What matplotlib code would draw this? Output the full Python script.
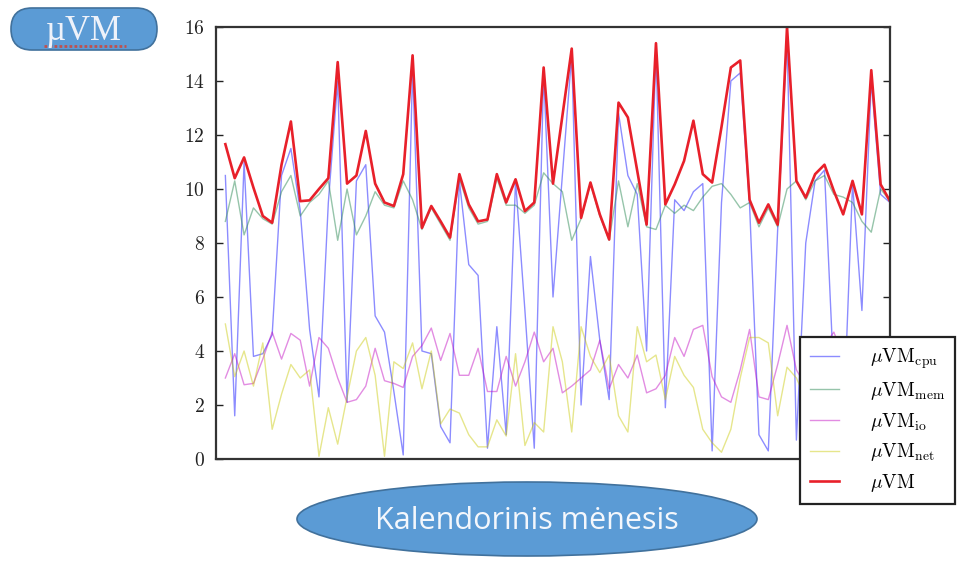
import numpy as np
import matplotlib
matplotlib.use("Agg")
import matplotlib.pyplot as plt
from matplotlib.patches import Ellipse, FancyBboxPatch
from matplotlib.ticker import FuncFormatter

# Mėnesiai (x) ir μVM komponentės, nuskaitytos iš paveikslo
menuo = list(range(1, 73))

cpu = [10.5, 1.6, 11.0, 3.8, 3.9, 4.6, 10.5, 11.5, 9.2, 4.8, 2.3, 9.5,
       14.0, 2.1, 10.3, 10.9, 5.3, 4.7, 2.5, 0.15, 14.5, 4.0, 3.9, 1.2,
       0.6, 10.3, 7.2, 6.8, 0.4, 4.9, 0.9, 10.3, 5.5, 0.4, 14.3, 6.0,
       10.5, 15.0, 2.0, 7.5, 4.4, 2.2, 12.8, 10.5, 9.8, 4.0, 15.2, 1.9,
       9.6, 9.2, 9.9, 10.2, 0.3, 9.5, 14.0, 14.3, 9.4, 0.9, 0.3, 8.5,
       15.6, 0.7, 8.0, 10.3, 10.7, 3.0, 1.0, 10.2, 5.5, 14.0, 9.8, 9.5]

mem = [8.8, 10.3, 8.3, 9.3, 8.9, 8.7, 9.9, 10.5, 9.0, 9.5, 9.8, 10.3,
       8.1, 10.0, 8.3, 9.0, 9.9, 9.4, 9.3, 10.3, 9.6, 8.5, 9.3, 8.7,
       8.1, 10.4, 9.3, 8.7, 8.8, 10.4, 9.4, 9.4, 9.1, 9.4, 10.6, 10.2,
       9.9, 8.1, 8.9, 10.2, 9.0, 8.1, 10.3, 8.6, 10.2, 8.6, 8.5, 9.4,
       9.1, 9.4, 9.2, 9.7, 10.1, 10.2, 9.8, 9.3, 9.5, 8.6, 9.3, 8.6,
       10.0, 10.3, 9.6, 10.3, 10.5, 9.8, 9.7, 9.5, 8.8, 8.4, 10.0, 9.55]

io = [3.0, 3.9, 2.75, 2.8, 3.7, 4.7, 3.7, 4.65, 4.4, 2.7, 4.5, 4.1,
      3.0, 2.1, 2.2, 2.7, 4.1, 2.9, 2.8, 2.65, 3.8, 4.2, 4.85, 3.65,
      4.65, 3.1, 3.1, 4.1, 2.5, 2.5, 3.8, 2.7, 3.6, 4.7, 3.6, 4.1,
      2.45, 2.7, 3.0, 3.3, 4.4, 2.6, 3.5, 3.0, 3.85, 2.45, 2.6, 3.1,
      4.5, 3.8, 4.8, 4.95, 3.05, 2.3, 2.1, 3.3, 4.8, 2.3, 2.2, 3.5,
      4.95, 3.3, 2.7, 3.5, 4.2, 4.7, 3.8, 3.2, 2.8, 3.6, 4.3, 3.2]

net = [5.0, 3.05, 4.0, 2.7, 4.3, 1.1, 2.4, 3.5, 3.0, 3.3, 0.1, 1.9,
       0.55, 2.3, 4.0, 4.5, 3.1, 0.1, 3.6, 3.35, 4.3, 2.6, 4.0, 1.3,
       1.85, 1.7, 0.9, 0.45, 0.45, 1.45, 0.85, 3.9, 0.5, 1.35, 1.0, 4.9,
       3.6, 1.0, 4.9, 3.8, 3.2, 3.85, 1.6, 1.0, 4.9, 3.6, 3.85, 2.2,
       3.8, 3.1, 2.65, 1.1, 0.6, 0.25, 1.1, 3.0, 4.5, 4.5, 4.3, 1.6,
       3.4, 3.0, 2.2, 3.6, 1.5, 2.8, 4.0, 1.2, 3.3, 2.5, 4.1, 2.9]

uvm = [11.66, 10.4, 11.17, 10.05, 9.0, 8.75, 10.9, 12.5, 9.55, 9.58, 10.0, 10.4,
       14.7, 10.2, 10.5, 12.15, 10.2, 9.5, 9.37, 10.55, 14.95, 8.56, 9.37, 8.8,
       8.2, 10.55, 9.43, 8.8, 8.87, 10.55, 9.5, 10.36, 9.18, 9.5, 14.5, 10.2,
       12.7, 15.2, 8.93, 10.24, 9.06, 8.13, 13.2, 12.65, 10.67, 8.68, 15.4, 9.43,
       10.17, 11.04, 12.53, 10.55, 10.24, 12.3, 14.5, 14.76, 9.6, 8.75, 9.43, 8.68,
       16.0, 10.3, 9.68, 10.55, 10.9, 9.93, 9.06, 10.3, 9.06, 14.4, 10.17, 9.55]

y_ticks = [0, 2, 4, 6, 8, 10, 12, 14, 16]

plt.rcParams["mathtext.fontset"] = "cm"

fig = plt.figure(figsize=(9.64, 5.61), dpi=100)

# dekoracijos (ovalai) pikselių koordinatėmis
deco = fig.add_axes([0, 0, 1, 1], zorder=0)
deco.set_xlim(0, 964)
deco.set_ylim(561, 0)
deco.axis("off")
deco.add_patch(FancyBboxPatch((11, 8), 146, 42, boxstyle="round,pad=0,rounding_size=21",
                              facecolor="#5b9bd5", edgecolor="#41719c", linewidth=1.2))
deco.text(84, 31, "µVM", ha="center", va="center", fontsize=25,
          family="Liberation Serif", color="#eef2fa")
deco.plot([44, 126], [46, 46], color="#c0504d", linewidth=2, linestyle=(0, (1, 0.8)))
deco.add_patch(Ellipse((527, 519), 460, 74, facecolor="#5b9bd5",
                       edgecolor="#41719c", linewidth=1.2))
deco.text(527, 521, "Kalendorinis mėnesis", ha="center", va="center", fontsize=22,
          family="Open Sans", color="#f4f7fc")

ax = fig.add_axes([216 / 964, 1 - 459 / 561, 674 / 964, 432 / 561], zorder=1)
ax.plot(menuo, cpu, color="b", alpha=0.45, linewidth=1.0, label=r"$\mu\mathrm{VM}_{\mathrm{cpu}}$")
ax.plot(menuo, mem, color="#2e8b57", alpha=0.5, linewidth=1.0, label=r"$\mu\mathrm{VM}_{\mathrm{mem}}$")
ax.plot(menuo, io, color="m", alpha=0.45, linewidth=1.0, label=r"$\mu\mathrm{VM}_{\mathrm{io}}$")
ax.plot(menuo, net, color="#c8c800", alpha=0.45, linewidth=1.0, label=r"$\mu\mathrm{VM}_{\mathrm{net}}$")
ax.plot(menuo, uvm, color="#e8202a", linewidth=1.9, label=r"$\mu\mathrm{VM}$")

ax.set_xlim(0, 72)
ax.set_ylim(0, 16)
ax.set_xticks([])
ax.set_yticks(y_ticks)
ax.yaxis.set_major_formatter(FuncFormatter(lambda v, p: f"${v:.0f}$"))
ax.tick_params(axis="y", direction="in", length=5, width=1, labelsize=14,
               right=True, pad=8, colors="#222222")
for sp in ax.spines.values():
    sp.set_linewidth(1.6)
    sp.set_color("#333333")

leg = ax.legend(loc="upper left", bbox_to_anchor=(800 / 964, 1 - 337 / 561),
                bbox_transform=fig.transFigure, fontsize=14, frameon=True,
                fancybox=False, framealpha=1, edgecolor="#222222",
                handlelength=1.5, handletextpad=1.6, labelspacing=0.45,
                borderpad=0.5, borderaxespad=0)
leg.get_frame().set_linewidth(1.6)

fig.savefig("out.png", dpi=100)
